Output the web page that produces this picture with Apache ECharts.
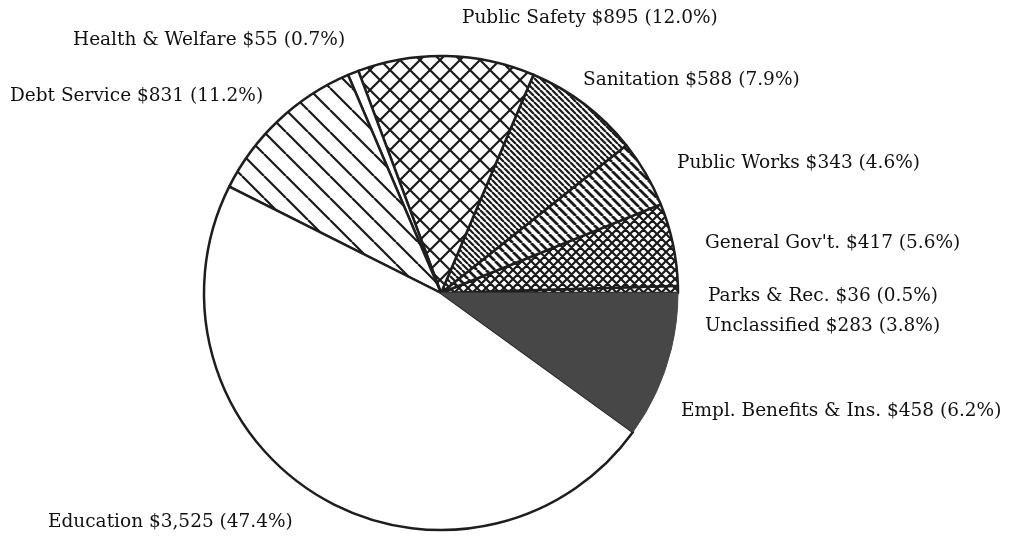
<!DOCTYPE html>
<html>
<head>
<meta charset="utf-8">
<script src="https://cdn.jsdelivr.net/npm/echarts@6/dist/echarts.min.js"></script>
<style>html,body{margin:0;padding:0;background:#fff;}#c{width:1022px;height:540px;}</style>
</head>
<body>
<div id="c"></div>
<script>
// Data (counter-clockwise from 3 o'clock)
const categories = ["Parks & Rec.", "General Gov't.", "Public Works", "Sanitation", "Public Safety", "Health & Welfare", "Debt Service", "Education", "Empl. Benefits & Ins.", "Unclassified"];
const amounts = [36, 417, 343, 588, 895, 55, 831, 3525, 458, 283];
const percents = ["0.5", "5.6", "4.6", "7.9", "12.0", "0.7", "11.2", "47.4", "6.2", "3.8"];

// Label placement (left x, middle y) — layout only
const labelPos = [
  [708, 296], [705, 243], [677, 163], [583, 80], [462, 18],
  [73, 40], [10, 96], [48, 522], [681, 411], [705, 326]
];

function makePattern(kind, d, lw, color) {
  const c = document.createElement('canvas');
  c.width = d; c.height = d;
  const g = c.getContext('2d');
  g.fillStyle = '#fff'; g.fillRect(0, 0, d, d);
  g.strokeStyle = color || '#1a1a1a';
  g.lineWidth = lw;
  g.beginPath();
  for (let k = -1; k <= 1; k++) {
    if (kind === 'back' || kind === 'cross') {
      g.moveTo(k * d, 0); g.lineTo(k * d + d, d);
    }
    if (kind === 'fwd' || kind === 'cross') {
      g.moveTo(k * d + d, 0); g.lineTo(k * d, d);
    }
  }
  g.stroke();
  return { image: c, repeat: 'repeat' };
}

const fills = [
  makePattern('cross', 9, 2.2),
  makePattern('cross', 9, 2.2),
  makePattern('back', 9, 2.8),
  makePattern('back', 6, 2.2),
  makePattern('cross', 20, 2.2),
  '#ffffff',
  makePattern('back', 22, 2.2),
  '#ffffff',
  '#474747',
  '#474747'
];

function fmtMoney(v) {
  return '$' + v.toLocaleString('en-US');
}

const data = categories.map((name, i) => ({
  name: name,
  value: amounts[i],
  itemStyle: {
    color: fills[i],
    borderColor: (i >= 8) ? '#474747' : '#1e1e1e',
    borderWidth: (i >= 8) ? 1 : 2.5
  }
}));

const chart = echarts.init(document.getElementById('c'), null, { renderer: 'canvas' });
chart.setOption({
  animation: false,
  backgroundColor: '#fff',
  series: [{
    type: 'pie',
    center: [441, 293],
    radius: 237,
    startAngle: 0,
    clockwise: false,
    avoidLabelOverlap: false,
    emphasis: { disabled: true },
    label: {
      show: true,
      position: 'outside',
      fontFamily: 'DejaVu Serif',
      fontSize: 18.5,
      color: '#111',
      formatter: p => p.name + ' ' + fmtMoney(amounts[p.dataIndex]) + ' (' + percents[p.dataIndex] + '%)'
    },
    labelLine: { show: false },
    labelLayout: p => ({
      x: labelPos[p.dataIndex][0],
      y: labelPos[p.dataIndex][1],
      align: 'left',
      verticalAlign: 'middle'
    }),
    data: data
  }]
});
</script>
</body>
</html>
